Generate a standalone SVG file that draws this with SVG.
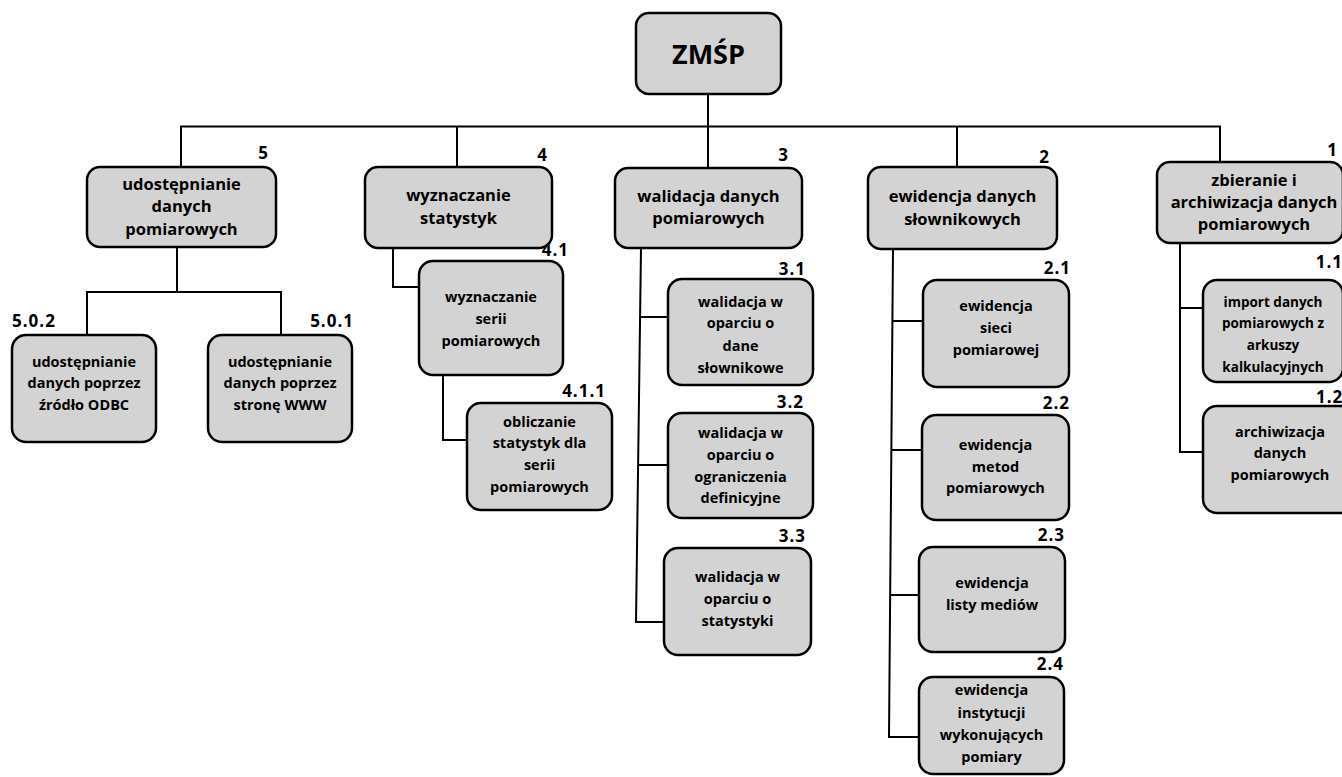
<svg xmlns="http://www.w3.org/2000/svg" width="1342" height="777" viewBox="0 0 1342 777">
<style>
.box{fill:#d3d3d3;stroke:#000;stroke-width:2.5}
.ln{fill:none;stroke:#000;stroke-width:2}
text{font-family:"Open Sans","Liberation Sans",sans-serif;font-weight:700;fill:#000}
.t{font-size:16.5px;text-anchor:middle}
.s{font-size:14.5px;text-anchor:middle}
.xs{font-size:13.5px;text-anchor:middle}
.n{font-size:17px;letter-spacing:1px}
.r{text-anchor:end}
</style>
<rect width="1342" height="777" fill="#fff"/>
<g id="connectors" class="ln">
<line x1="708" y1="94" x2="708" y2="168"/>
<line x1="180" y1="126.5" x2="1221" y2="126.5"/>
<line x1="181" y1="126" x2="181" y2="167"/>
<line x1="457" y1="126" x2="457" y2="167"/>
<line x1="957" y1="126" x2="957" y2="167"/>
<line x1="1220" y1="126" x2="1220" y2="162"/>
<polyline points="177,247 177,292"/>
<polyline points="87,335 87,292 281,292 281,335"/>
<polyline points="393,248 393,287 419,287"/>
<polyline points="443,375 443,440 467,440"/>
<polyline points="641,248 636,622 664,622"/>
<line x1="640" y1="317" x2="668" y2="317"/>
<line x1="638.5" y1="465" x2="668" y2="465"/>
<polyline points="893,249 889,737 919,737"/>
<line x1="892" y1="321" x2="923" y2="321"/>
<line x1="891" y1="450" x2="922" y2="450"/>
<line x1="890" y1="595" x2="919" y2="595"/>
<polyline points="1180,243 1180,452 1203,452"/>
<line x1="1180" y1="308" x2="1203" y2="308"/>
</g>
<g id="n0"><rect class="box" x="636" y="13" width="145" height="81" rx="13"/>
<text x="708.5" y="64" text-anchor="middle" font-size="27">ZMŚP</text></g>
<g id="n5"><rect class="box" x="87" y="167" width="189" height="80" rx="13"/>
<text class="t" x="181.5" y="190">udostępnianie</text><text class="t" x="181.5" y="212">danych</text><text class="t" x="181.5" y="235">pomiarowych</text>
<text class="n r" x="269" y="159">5</text></g>
<g id="n502"><rect class="box" x="12" y="335" width="144" height="107" rx="14"/>
<text class="s" x="84" y="367">udostępnianie</text><text class="s" x="84" y="388">danych poprzez</text><text class="s" x="84" y="410">źródło ODBC</text>
<text class="n" x="12" y="327">5.0.2</text></g>
<g id="n501"><rect class="box" x="208" y="335" width="144" height="107" rx="14"/>
<text class="s" x="280" y="367">udostępnianie</text><text class="s" x="280" y="388">danych poprzez</text><text class="s" x="280" y="410">stronę WWW</text>
<text class="n r" x="354" y="327">5.0.1</text></g>
<g id="n4"><rect class="box" x="365" y="167" width="187" height="81" rx="13"/>
<text class="t" x="458.5" y="201">wyznaczanie</text><text class="t" x="458.5" y="224">statystyk</text>
<text class="n r" x="548" y="161">4</text></g>
<g id="n41"><rect class="box" x="419" y="261" width="144" height="114" rx="14"/>
<text class="s" x="491" y="302">wyznaczanie</text><text class="s" x="491" y="324">serii</text><text class="s" x="491" y="346">pomiarowych</text>
<text class="n r" x="569" y="256">4.1</text></g>
<g id="n411"><rect class="box" x="467" y="403" width="145" height="107" rx="14"/>
<text class="s" x="539.5" y="427">obliczanie</text><text class="s" x="539.5" y="448">statystyk dla</text><text class="s" x="539.5" y="470">serii</text><text class="s" x="539.5" y="492">pomiarowych</text>
<text class="n r" x="606" y="397">4.1.1</text></g>
<g id="n3"><rect class="box" x="615" y="168" width="187" height="80" rx="13"/>
<text class="t" x="708.5" y="202">walidacja danych</text><text class="t" x="708.5" y="224">pomiarowych</text>
<text class="n r" x="789" y="161">3</text></g>
<g id="n31"><rect class="box" x="668" y="279" width="145" height="106" rx="14"/>
<text class="s" x="740.5" y="307">walidacja w</text><text class="s" x="740.5" y="328">oparciu o</text><text class="s" x="740.5" y="351">dane</text><text class="s" x="740.5" y="373">słownikowe</text>
<text class="n r" x="806" y="275">3.1</text></g>
<g id="n32"><rect class="box" x="668" y="413" width="145" height="105" rx="14"/>
<text class="s" x="740.5" y="438">walidacja w</text><text class="s" x="740.5" y="460">oparciu o</text><text class="s" x="740.5" y="482">ograniczenia</text><text class="s" x="740.5" y="503">definicyjne</text>
<text class="n r" x="804" y="408">3.2</text></g>
<g id="n33"><rect class="box" x="664" y="548" width="147" height="107" rx="14"/>
<text class="s" x="737.5" y="582">walidacja w</text><text class="s" x="737.5" y="604">oparciu o</text><text class="s" x="737.5" y="626">statystyki</text>
<text class="n r" x="806" y="542">3.3</text></g>
<g id="n2"><rect class="box" x="868" y="167" width="189" height="82" rx="13"/>
<text class="t" x="962.5" y="202">ewidencja danych</text><text class="t" x="962.5" y="225">słownikowych</text>
<text class="n r" x="1050" y="163">2</text></g>
<g id="n21"><rect class="box" x="923" y="280" width="146" height="107" rx="14"/>
<text class="s" x="996" y="311">ewidencja</text><text class="s" x="996" y="333">sieci</text><text class="s" x="996" y="355">pomiarowej</text>
<text class="n r" x="1071" y="274">2.1</text></g>
<g id="n22"><rect class="box" x="922" y="415" width="147" height="105" rx="14"/>
<text class="s" x="995.5" y="450">ewidencja</text><text class="s" x="995.5" y="472">metod</text><text class="s" x="995.5" y="493">pomiarowych</text>
<text class="n r" x="1070" y="409">2.2</text></g>
<g id="n23"><rect class="box" x="919" y="547" width="146" height="105" rx="14"/>
<text class="s" x="992" y="588">ewidencja</text><text class="s" x="992" y="610">listy mediów</text>
<text class="n r" x="1065" y="541">2.3</text></g>
<g id="n24"><rect class="box" x="919" y="677" width="145" height="97" rx="14"/>
<text class="s" x="991.5" y="695">ewidencja</text><text class="s" x="991.5" y="718">instytucji</text><text class="s" x="991.5" y="740">wykonujących</text><text class="s" x="991.5" y="762">pomiary</text>
<text class="n r" x="1064" y="670">2.4</text></g>
<g id="n1"><rect class="box" x="1157" y="162" width="186" height="81" rx="13"/>
<text class="t" x="1254" y="186">zbieranie i</text><text class="t" x="1254" y="208">archiwizacja danych</text><text class="t" x="1254" y="230">pomiarowych</text>
<text class="n r" x="1338" y="156">1</text></g>
<g id="n11"><rect class="box" x="1203" y="280" width="140" height="102" rx="14"/>
<text class="xs" x="1273" y="307">import danych</text><text class="xs" x="1273" y="328">pomiarowych z</text><text class="xs" x="1273" y="350">arkuszy</text><text class="xs" x="1273" y="372">kalkulacyjnych</text>
<text class="n r" x="1343" y="268">1.1</text></g>
<g id="n12"><rect class="box" x="1203" y="406" width="155" height="107" rx="14"/>
<text class="s" x="1280" y="437">archiwizacja</text><text class="s" x="1280" y="458">danych</text><text class="s" x="1280" y="480">pomiarowych</text>
<text class="n" x="1316" y="403">1.2</text></g>
</svg>
